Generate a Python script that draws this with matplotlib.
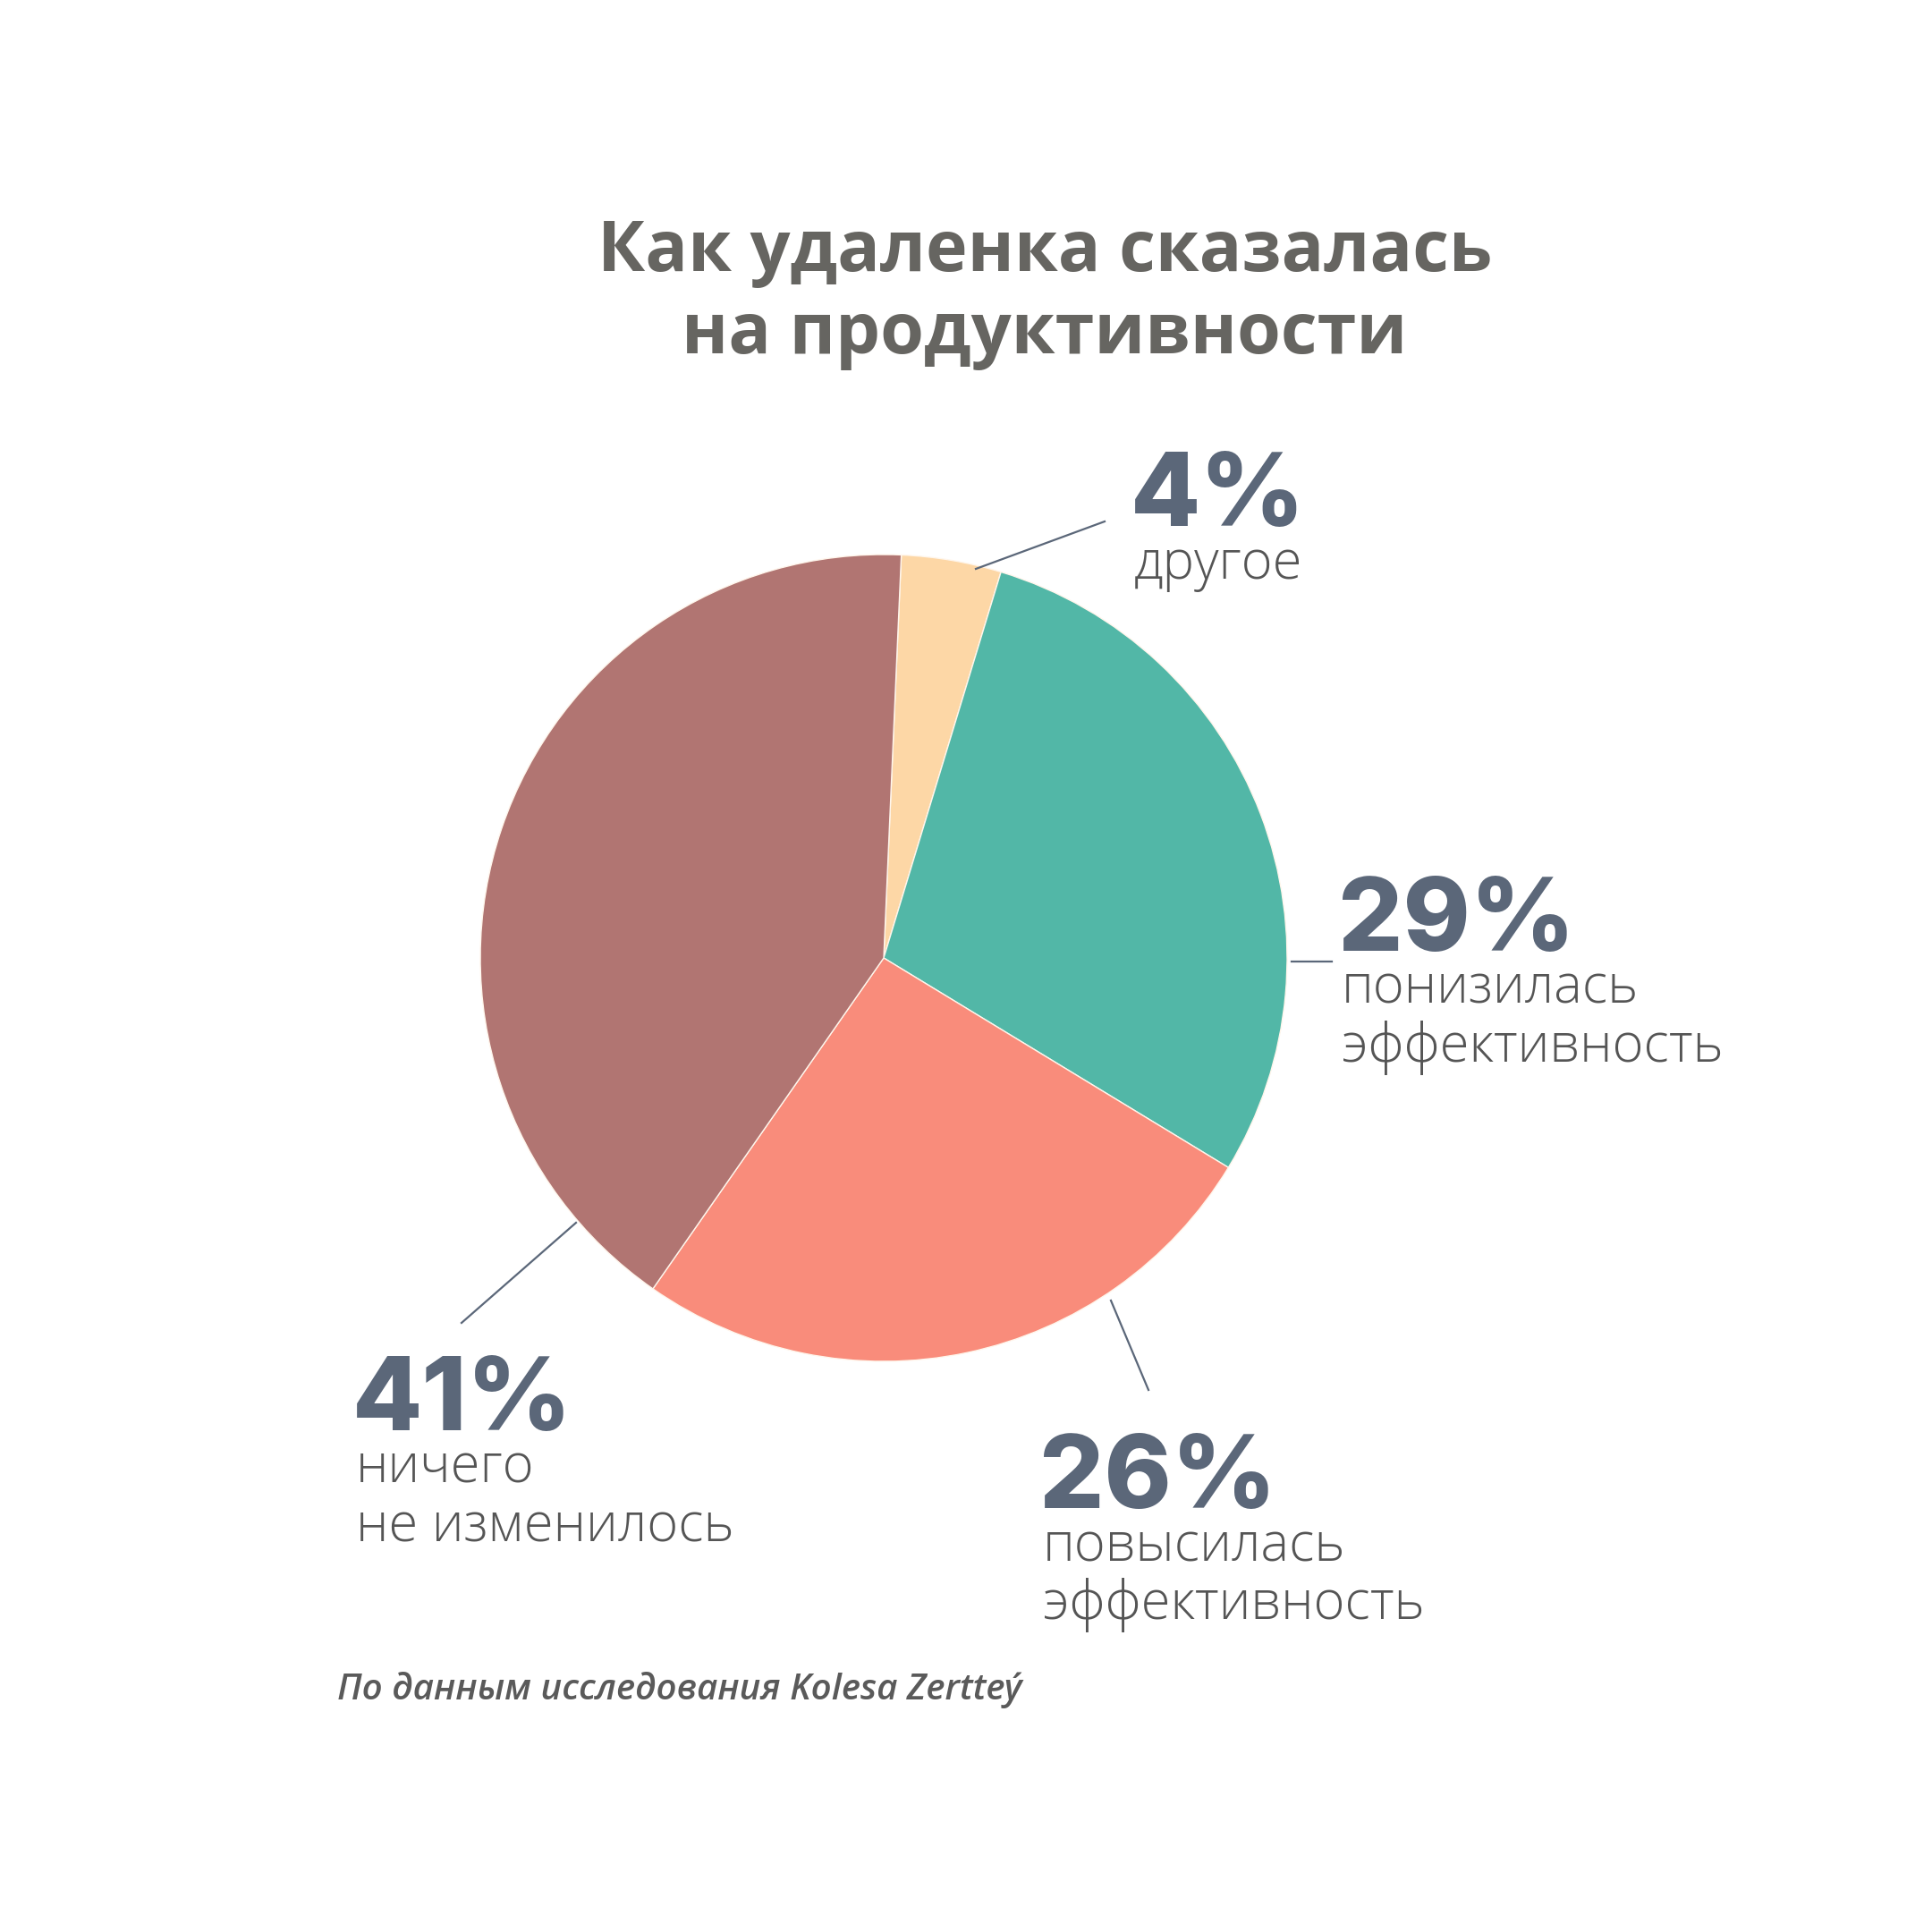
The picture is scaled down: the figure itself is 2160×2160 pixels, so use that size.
import matplotlib

matplotlib.use("Agg")
import matplotlib.pyplot as plt

# data, clockwise from the top
categories = [["другое"], ["понизилась", "эффективность"], ["повысилась", "эффективность"], ["ничего", "не изменилось"]]
shares = [4, 29, 26, 41]
pct_labels = ["4%", "29%", "26%", "41%"]
colors = ["#FDD7A6", "#52B7A7", "#F98C7B", "#B17572"]

title_lines = ["Как удаленка сказалась", "на продуктивности"]
source = "По данным исследования Kolesa Zertteý"

W = 2160
SLATE = "#5B6779"
GRAY = "#555555"


def Y(y):
    # picture y (top down) -> axes y (bottom up)
    return W - y


fig = plt.figure(figsize=(21.6, 21.6), dpi=100)
ax = fig.add_axes([0, 0, 1, 1])

cx, cy, r = 988, 1071, 451
ax.pie(
    shares,
    colors=colors,
    center=(cx, Y(cy)),
    radius=r,
    startangle=87.5,
    counterclock=False,
    wedgeprops=dict(linewidth=1.0, edgecolor="#FFF6EC"),
)
ax.set_xlim(0, W)
ax.set_ylim(0, W)
ax.set_aspect("equal")
ax.axis("off")

for i, line in enumerate(title_lines):
    ax.text(1168, Y(303 + 92 * i), line, ha="center", va="baseline",
            fontsize=57, fontweight="bold", color="#666561", family="Open Sans")

# leader lines (start on the pie edge, end near the label)
leaders = [
    ((1091, 636), (1235, 583)),
    ((1444, 1075), (1489, 1075)),
    ((1242, 1454), (1284, 1554)),
    ((644, 1367), (516, 1479)),
]
for (x0, y0), (x1, y1) in leaders:
    ax.plot([x0, x1], [Y(y0), Y(y1)], color=SLATE, lw=1.6)

# label anchors: left x, baseline of the big number
anchors = [(1268, 588), (1500, 1063), (1166, 1686), (398, 1599)]
for (x, y), pct, cat in zip(anchors, pct_labels, categories):
    ax.text(x - 4, Y(y), pct, ha="left", va="baseline", fontsize=82,
            fontweight="heavy", color=SLATE, family="Inter")
    for j, line in enumerate(cat):
        ax.text(x, Y(y + 59 + 65 * j), line, ha="left", va="baseline", fontsize=43,
                fontweight="light", color=GRAY, family="Open Sans")

ax.text(377, Y(1900), source, ha="left", va="baseline", fontsize=29,
        style="italic", fontweight="semibold", color="#5A5A5A", family="Open Sans")

fig.savefig("out.png", dpi=100, facecolor="white")
